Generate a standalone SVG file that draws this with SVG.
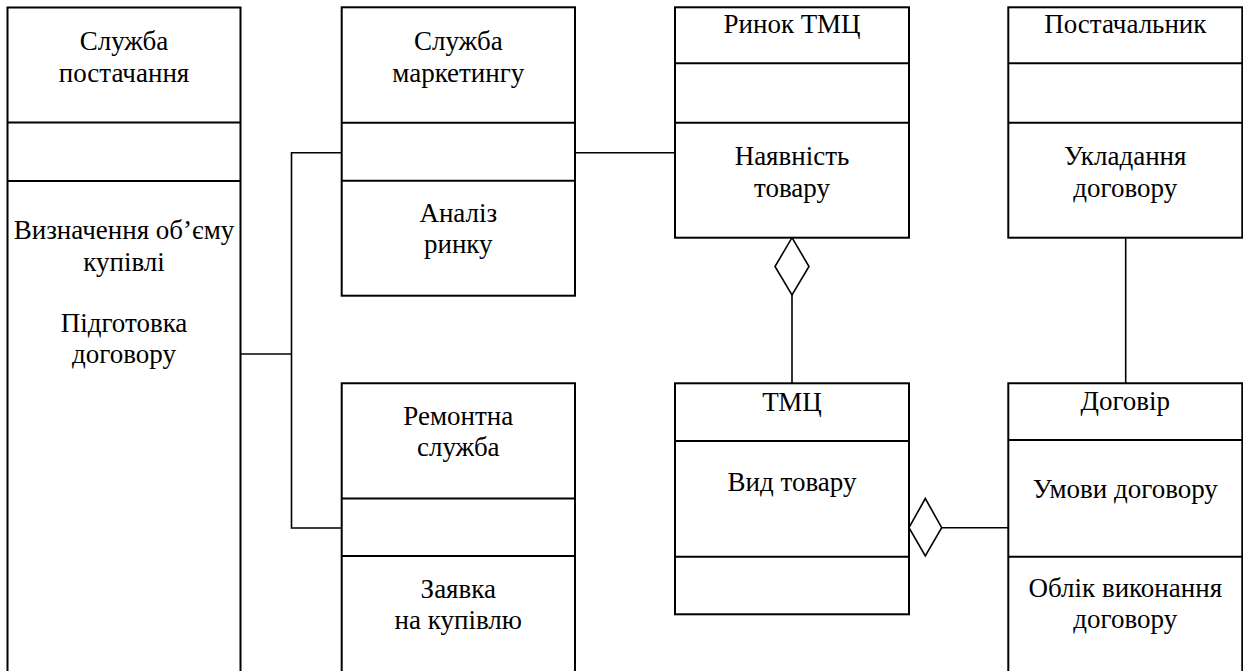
<svg xmlns="http://www.w3.org/2000/svg" width="1243" height="671" viewBox="0 0 1243 671">
  <rect width="1243" height="671" fill="#fff"/>

  <!-- connectors -->
  <g id="connectors" fill="none" stroke="#000" stroke-width="1.6">
    <polyline points="240.5,354 291.5,354"/>
    <polyline points="341.5,152.7 291.5,152.7 291.5,528 341.5,528"/>
    <line x1="575" y1="152.7" x2="675" y2="152.7"/>
    <line x1="792" y1="295" x2="792" y2="383.3"/>
    <polygon fill="#fff" points="792,237.7 809,266.5 792,295 775,266.5"/>
    <line x1="941.7" y1="527.7" x2="1009" y2="527.7"/>
    <polygon fill="#fff" points="909,527.7 925.3,498.5 941.7,527.7 925.3,556"/>
    <line x1="1125.7" y1="237.7" x2="1125.7" y2="383.3"/>
  </g>

  <!-- Служба постачання -->
  <g id="supply">
    <g fill="#fff" stroke="#000" stroke-width="2">
      <polyline points="7.5,672 7.5,7.5 240.5,7.5 240.5,672"/>
      <line x1="7.5" y1="122.5" x2="240.5" y2="122.5"/>
      <line x1="7.5" y1="181" x2="240.5" y2="181"/>
    </g>
    <g font-size="27" text-anchor="middle" fill="#000">
      <text font-family="Times New Roman" x="124" y="50">Служба</text>
      <text font-family="Times New Roman" x="124" y="82">постачання</text>
      <text font-family="Times New Roman" x="124" y="239.3">Визначення об’єму</text>
      <text font-family="Times New Roman" x="124" y="270.5">купівлі</text>
      <text font-family="Times New Roman" x="124" y="331.5">Підготовка</text>
      <text font-family="Times New Roman" x="124" y="362.7">договору</text>
    </g>
  </g>

  <!-- Служба маркетингу -->
  <g id="marketing">
    <g fill="#fff" stroke="#000" stroke-width="2">
      <rect x="341.7" y="7.3" width="233.3" height="288.4"/>
      <line x1="341.7" y1="122.7" x2="575" y2="122.7"/>
      <line x1="341.7" y1="180.7" x2="575" y2="180.7"/>
    </g>
    <g font-size="27" text-anchor="middle" fill="#000">
      <text font-family="Times New Roman" x="458.3" y="50">Служба</text>
      <text font-family="Times New Roman" x="458.3" y="81.5">маркетингу</text>
      <text font-family="Times New Roman" x="458.3" y="221.7">Аналіз</text>
      <text font-family="Times New Roman" x="458.3" y="253">ринку</text>
    </g>
  </g>

  <!-- Ремонтна служба -->
  <g id="repair">
    <g fill="#fff" stroke="#000" stroke-width="2">
      <polyline points="341.7,672 341.7,383.3 575,383.3 575,672"/>
      <line x1="341.7" y1="498.5" x2="575" y2="498.5"/>
      <line x1="341.7" y1="556" x2="575" y2="556"/>
    </g>
    <g font-size="27" text-anchor="middle" fill="#000">
      <text font-family="Times New Roman" x="458.3" y="425">Ремонтна</text>
      <text font-family="Times New Roman" x="458.3" y="456">служба</text>
      <text font-family="Times New Roman" x="458.3" y="598.3">Заявка</text>
      <text font-family="Times New Roman" x="458.3" y="629.3">на купівлю</text>
    </g>
  </g>

  <!-- Ринок ТМЦ -->
  <g id="market">
    <g fill="#fff" stroke="#000" stroke-width="2">
      <rect x="675" y="7.3" width="234" height="230.4"/>
      <line x1="675" y1="63.3" x2="909" y2="63.3"/>
      <line x1="675" y1="122.7" x2="909" y2="122.7"/>
    </g>
    <g font-size="27" text-anchor="middle" fill="#000">
      <text font-family="Times New Roman" x="792" y="33.3">Ринок ТМЦ</text>
      <text font-family="Times New Roman" x="792" y="165">Наявність</text>
      <text font-family="Times New Roman" x="792" y="196.7">товару</text>
    </g>
  </g>

  <!-- ТМЦ -->
  <g id="goods">
    <g fill="#fff" stroke="#000" stroke-width="2">
      <rect x="675" y="383.3" width="234" height="231"/>
      <line x1="675" y1="441" x2="909" y2="441"/>
      <line x1="675" y1="556.7" x2="909" y2="556.7"/>
    </g>
    <g font-size="27" text-anchor="middle" fill="#000">
      <text font-family="Times New Roman" x="792" y="410.7">ТМЦ</text>
      <text font-family="Times New Roman" x="792" y="490.7">Вид товару</text>
    </g>
  </g>

  <!-- Постачальник -->
  <g id="supplier">
    <g fill="#fff" stroke="#000" stroke-width="2">
      <rect x="1008.3" y="7.3" width="234" height="230.4"/>
      <line x1="1008.3" y1="63.3" x2="1242.3" y2="63.3"/>
      <line x1="1008.3" y1="122.7" x2="1242.3" y2="122.7"/>
    </g>
    <g font-size="27" text-anchor="middle" fill="#000">
      <text font-family="Times New Roman" x="1125.3" y="33.3">Постачальник</text>
      <text font-family="Times New Roman" x="1125.3" y="165">Укладання</text>
      <text font-family="Times New Roman" x="1125.3" y="196.7">договору</text>
    </g>
  </g>

  <!-- Договір -->
  <g id="contract">
    <g fill="#fff" stroke="#000" stroke-width="2">
      <polyline points="1008.3,672 1008.3,383.3 1242.3,383.3 1242.3,672"/>
      <line x1="1008.3" y1="440" x2="1242.3" y2="440"/>
      <line x1="1008.3" y1="556.7" x2="1242.3" y2="556.7"/>
    </g>
    <g font-size="27" text-anchor="middle" fill="#000">
      <text font-family="Times New Roman" x="1125.3" y="409.5">Договір</text>
      <text font-family="Times New Roman" x="1125.3" y="498.3">Умови договору</text>
      <text font-family="Times New Roman" x="1125.3" y="596.7">Облік виконання</text>
      <text font-family="Times New Roman" x="1125.3" y="628">договору</text>
    </g>
  </g>
</svg>
